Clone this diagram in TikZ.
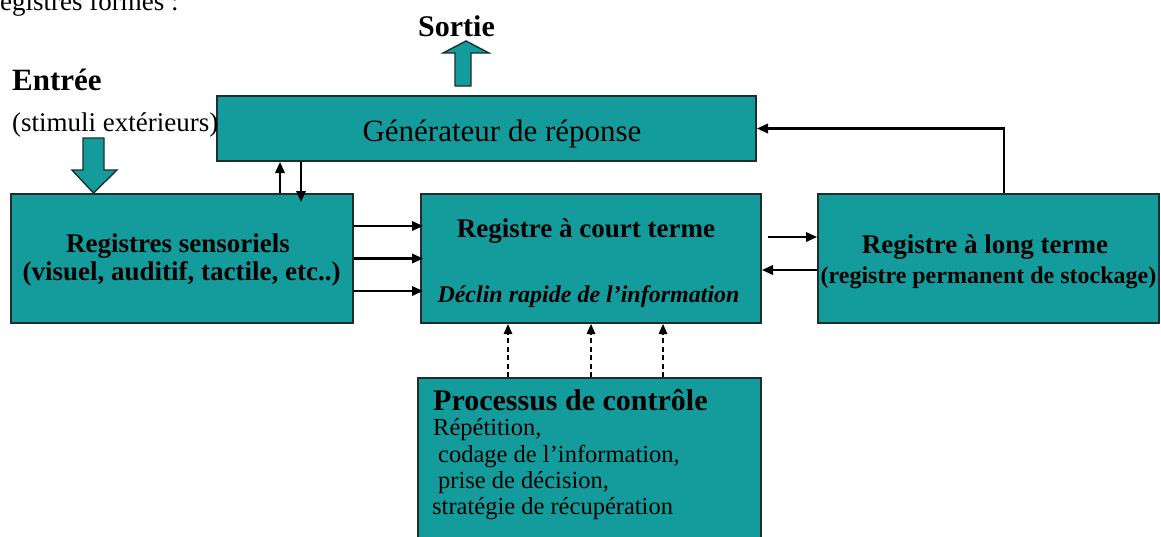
\documentclass[tikz,border=0pt]{standalone}
\usepackage{fontspec}
\setmainfont{Liberation Serif}
\usetikzlibrary{arrows.meta}
\definecolor{tealfill}{RGB}{20,155,155}
\definecolor{boxline}{RGB}{30,45,45}
\begin{document}
\begin{tikzpicture}[x=1pt,y=-1pt,
  box/.style={draw=boxline, fill=tealfill, line width=2pt, inner sep=0pt},
  blockarr/.style={draw=boxline, fill=tealfill, line width=1.4pt, line join=miter},
  arr/.style={line width=2.1pt, -{Triangle[length=11pt,width=9.5pt]}},
  darr/.style={line width=1.6pt, dash pattern=on 5pt off 3.5pt, -{Triangle[length=10pt,width=8.5pt]}},
  txt/.style={inner sep=0pt, anchor=base},
  txtw/.style={inner sep=0pt, anchor=base west},
  bigb/.style={font=\fontsize{30}{32}\selectfont\bfseries},
  medb/.style={font=\fontsize{27}{29}\selectfont\bfseries},
  smallb/.style={font=\fontsize{24}{26}\selectfont\bfseries},
  smallbi/.style={font=\fontsize{24}{26}\selectfont\bfseries\itshape},
  reg/.style={font=\fontsize{27}{29}\selectfont},
  regl/.style={font=\fontsize{31}{33}\selectfont},
  regs/.style={font=\fontsize{24.5}{26}\selectfont}]
\useasboundingbox (0,0) rectangle (1161,536);
\clip (0,0) rectangle (1161,536);

% top cut text
\node[txtw, reg] (toptxt) at (0,10) {egistres formés :};

% boxes
\node[box, minimum width=539pt, minimum height=65pt] (gen) at (486.5,128.5) {};
\node[box, minimum width=342pt, minimum height=129pt] (sens) at (182,258.5) {};
\node[box, minimum width=340pt, minimum height=129pt] (court) at (591,258.5) {};
\node[box, minimum width=341pt, minimum height=129pt] (long) at (988.5,258.5) {};
\node[box, minimum width=343pt, minimum height=182pt] (proc) at (589.5,469) {};

% texts
\node[txtw, bigb] (sortie) at (418,36) {Sortie};
\node[txtw, font=\fontsize{31}{33}\selectfont\bfseries] (entree) at (12,90) {Entrée};
\node[txtw, reg] (stim) at (12,131) {(stimuli extérieurs)};
\node[txt, regl] (gent) at (502,141) {Générateur de réponse};
\node[txt, medb] (sens1) at (178,252) {Registres sensoriels};
\node[txt, medb] (sens2) at (181.5,280) {(visuel, auditif, tactile, etc..)};
\node[txt, medb] (court1) at (586,237) {Registre à court terme};
\node[txt, smallbi] (court2) at (588.5,302) {Déclin rapide de l’information};
\node[txt, medb] (long1) at (985,253) {Registre à long terme};
\node[txt, smallb] (long2) at (988.5,283) {(registre permanent de stockage)};
\node[txtw, bigb] (proc1) at (433,410) {Processus de contrôle};
\node[txtw, regs] (proc2) at (433,435) {Répétition,};
\node[txtw, regs] (proc3) at (438,462) {codage de l’information,};
\node[txtw, regs] (proc4) at (438,488) {prise de décision,};
\node[txtw, regs] (proc5) at (432,514) {stratégie de récupération};

% block arrows
\draw[blockarr] (83,138) -- (104,138) -- (104,170) -- (117,170) -- (93.5,193) -- (72,170) -- (83,170) -- cycle;
\draw[blockarr] (455,86) -- (471,86) -- (471,53) -- (489,53) -- (466,41) -- (443,53) -- (455,53) -- cycle;

% sens <-> gen
\coordinate (u1) at ([xshift=98pt]sens.north);
\coordinate (d1) at ([xshift=119pt,yshift=-9pt]sens.north);
\draw[arr] (u1) -- (u1 |- gen.south);
\draw[arr] (d1 |- gen.south) -- (d1);

% sens -> court
\foreach \dy in {32.5,0,-32.5}
  \draw[arr] ([yshift=\dy pt]sens.east) -- ([yshift=\dy pt, xshift=3pt]court.west);

% court <-> long
\draw[arr] ([xshift=6pt,yshift=21.5pt]court.east) -- ([yshift=21.5pt]long.west);
\draw[arr] ([yshift=-11.5pt]long.west) -- ([yshift=-11.5pt]court.east);

% long -> gen
\draw[arr] ([xshift=15.5pt]long.north) |- (gen.east);

% proc -> court (dashed)
\foreach \dx in {-81.5,1.5,73.5} {
  \coordinate (pp) at ([xshift=\dx pt]proc.north);
  \draw[darr] (pp) -- (pp |- court.south);
}
\end{tikzpicture}
\end{document}
